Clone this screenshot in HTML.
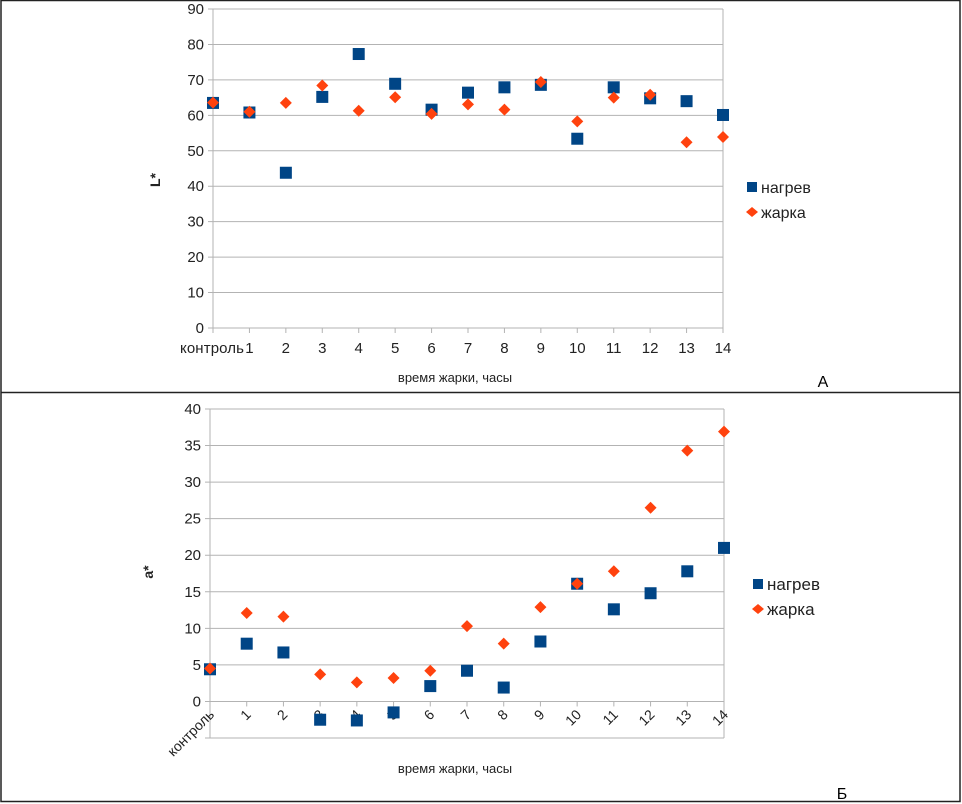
<!DOCTYPE html>
<html><head><meta charset="utf-8">
<style>
html,body{margin:0;padding:0;background:#fff;}
svg{display:block;font-family:"Liberation Sans","DejaVu Sans",sans-serif;}
</style></head>
<body>
<svg id="c" width="962" height="804" viewBox="0 0 962 804" xmlns="http://www.w3.org/2000/svg">
<rect x="1" y="0.5" width="959" height="801" fill="none" stroke="#222" stroke-width="1.5"/>
<line x1="1" y1="392.5" x2="960" y2="392.5" stroke="#222" stroke-width="1.5"/>
<text x="823" y="387" font-size="16" text-anchor="middle">A</text>
<text x="842" y="799" font-size="16" text-anchor="middle">Б</text>
</svg>
<script>
const categories = ["контроль","1","2","3","4","5","6","7","8","9","10","11","12","13","14"];
const topHeat = [63.5,60.8,43.8,65.2,77.3,68.9,61.6,66.4,67.9,68.6,53.4,67.9,64.8,64.0,60.1];
const topFry  = [63.6,61.0,63.5,68.4,61.3,65.1,60.4,63.1,61.6,69.4,58.3,65.0,65.8,52.4,53.9];
const topTicks = [0,10,20,30,40,50,60,70,80,90];
const botHeat = [4.4,7.9,6.7,-2.5,-2.6,-1.5,2.1,4.2,1.9,8.2,16.1,12.6,14.8,17.8,21.0];
const botFry  = [4.5,12.1,11.6,3.7,2.6,3.2,4.2,10.3,7.9,12.9,16.1,17.8,26.5,34.3,36.9];
const botTicks = [-5,0,5,10,15,20,25,30,35,40];
const seriesNames = ["нагрев","жарка"];

const svg = document.getElementById('c');
const NS = "http://www.w3.org/2000/svg";
function mk(tag, attrs, parent){
  const e = document.createElementNS(NS, tag);
  for (const k in attrs) e.setAttribute(k, attrs[k]);
  (parent||svg).appendChild(e);
  return e;
}

function drawChart(cfg){
  const g = mk('g', {});
  
  
  const n = categories.length;
  const xs = i => cfg.x0 + (cfg.x1 - cfg.x0) * i / (n - 1);
  const ys = v => cfg.yb - (cfg.yb - cfg.yt) * (v - cfg.min) / (cfg.max - cfg.min);
  cfg.ticks.forEach(t => {
    const y = ys(t);
    const l = mk('line', {x1: cfg.x0 - 5, x2: cfg.x1, y1: y, y2: y, stroke: '#b3b3b3', 'stroke-width': 1}, g);
    
    
    if (!cfg.hideTick || t !== cfg.hideTick) {
      const tx = mk('text', {x: cfg.x0 - 9, y: y + 5, 'font-size': 15, 'text-anchor': 'end', fill: '#222'}, g);
      tx.textContent = t;
      
      
    }
  });
  const ya = mk('line', {x1: cfg.x0, x2: cfg.x0, y1: cfg.yt, y2: cfg.yb, stroke: '#b3b3b3'}, g);
  
  
  const rb = mk('line', {x1: cfg.x1, x2: cfg.x1, y1: cfg.yt, y2: cfg.yb, stroke: '#b3b3b3'}, g);
  
  
  const axY = ys(cfg.axisAt);
  categories.forEach((c, i) => {
    const x = xs(i);
    const tk = mk('line', {x1: x, x2: x, y1: axY, y2: axY + 5, stroke: '#b3b3b3'}, g);
    
    
    let tx;
    if (cfg.rotate) {
      tx = mk('text', {x: x + 5, y: axY + 14, 'font-size': 14, 'text-anchor': 'end', fill: '#222',
        transform: `rotate(-45 ${x + 5} ${axY + 14})`}, g);
    } else {
      tx = mk('text', {x: i === 0 ? x - 1 : x, y: axY + 25, 'font-size': 15, 'text-anchor': 'middle', fill: '#222'}, g);
      if (i === 0) tx.setAttribute('textLength', 64);
    }
    tx.textContent = c;
    
    
  });
  cfg.heat.forEach((v, i) => {
    const r = mk('rect', {x: xs(i) - 6, y: ys(v) - 6, width: 12, height: 12, fill: '#004586'}, g);
    
    
  });
  cfg.fry.forEach((v, i) => {
    const x = xs(i), y = ys(v);
    const p = mk('polygon', {points: `${x},${y-6} ${x+6},${y} ${x},${y+6} ${x-6},${y}`, fill: '#ff420e'}, g);
    
    
  });
  const yt = mk('text', {x: cfg.ytx, y: cfg.yty, 'font-size': 14, 'font-weight': 'bold', 'text-anchor': 'middle', fill: '#222',
    transform: `rotate(-90 ${cfg.ytx} ${cfg.yty})`}, g);
  yt.textContent = cfg.ytitle;
  
  
  const xt = mk('text', {x: 455, y: cfg.xty, 'font-size': 13, 'text-anchor': 'middle', fill: '#222'}, g);
  xt.textContent = 'время жарки, часы';
  
  
  const lg = mk('g', {}, g);
  
  
  const lx = cfg.lx, ly = cfg.ly;
  const s = mk('rect', {x: lx, y: ly - 5, width: 10, height: 10, fill: '#004586'}, lg);
  
  
  const t1 = mk('text', {x: lx + 14, y: ly + 6, 'font-size': cfg.lfs, fill: '#222'}, lg);
  t1.textContent = seriesNames[0];
  
  
  const d = mk('polygon', {points: `${lx+5},${ly+20} ${lx+11},${ly+25} ${lx+5},${ly+30} ${lx-1},${ly+25}`, fill: '#ff420e'}, lg);
  
  
  const t2 = mk('text', {x: lx + 14, y: ly + 31, 'font-size': cfg.lfs, fill: '#222'}, lg);
  t2.textContent = seriesNames[1];
  
  
}

drawChart({name: 'chart-l-star', x0: 213, x1: 723, yt: 9, yb: 328, min: 0, max: 90, ticks: topTicks, axisAt: 0,
  heat: topHeat, fry: topFry, ytitle: 'L*', ytx: 160, yty: 180, xty: 382, lx: 747, ly: 187, lfs: 16, rotate: false});
drawChart({name: 'chart-a-star', x0: 210, x1: 724, yt: 409, yb: 738, min: -5, max: 40, ticks: botTicks, axisAt: 0,
  heat: botHeat, fry: botFry, ytitle: 'a*', ytx: 153, yty: 572, xty: 773, lx: 753, ly: 584, lfs: 17, rotate: true, hideTick: -5});
</script>
</body></html>
